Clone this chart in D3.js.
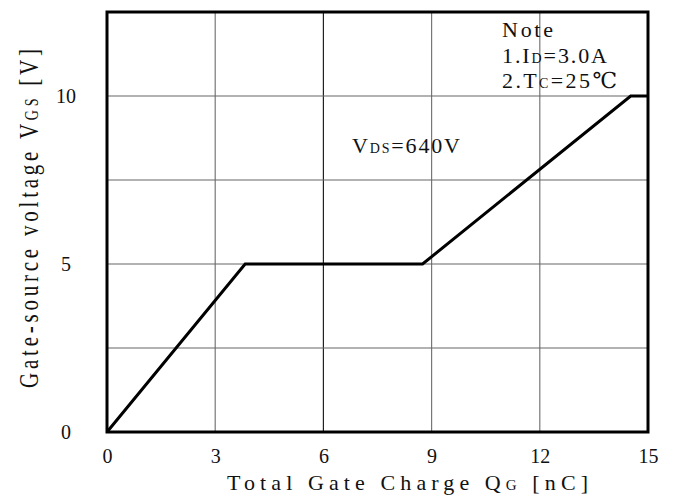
<!DOCTYPE html>
<html>
<head>
<meta charset="utf-8">
<script src="https://cdn.jsdelivr.net/npm/d3@7"></script>
<style>
  body { margin: 0; background: #fff; }
  text { font-family: "Liberation Serif", "DejaVu Serif", serif; fill: #111; }
</style>
</head>
<body>
<svg id="chart" width="680" height="497"></svg>
<script>
// gate charge curve
const qg  = [0, 3.83, 8.75, 14.52, 15];
const vgs = [0, 5, 5, 10, 10];

const xTicks = [0, 3, 6, 9, 12, 15];
const yTicks = [0, 5, 10];
const yGrid  = [2.5, 5, 7.5, 10];
// [main, subscript, rest, width]
const noteLines = [["Note", "", "", 51], ["1.I", "D", "=3.0A", 105], ["2.T", "C", "=25\u2103", 115]];

chart('#chart');

function chart(idsvg) {
    const svg = d3.select(idsvg);
    const margin = {left: 107, top: 12, right: 32, bottom: 65};
    const W = 680 - margin.left - margin.right;
    const H = 497 - margin.top - margin.bottom;

    const g = svg.append('g').attr('transform', 'translate(' + margin.left + ',' + margin.top + ')');

    const x = d3.scaleLinear().domain([0, 15]).range([0, W]);
    const y = d3.scaleLinear().domain([0, 12.5]).range([H, 0]);

    // grid
    g.append('g').selectAll('line').data(xTicks.slice(1, -1)).join('line')
        .attr('x1', d => x(d)).attr('x2', d => x(d))
        .attr('y1', 0).attr('y2', H)
        .attr('stroke', d => d == 6 ? '#222' : '#777').attr('stroke-width', 1.2);
    g.append('g').selectAll('line').data(yGrid).join('line')
        .attr('x1', 0).attr('x2', W)
        .attr('y1', d => y(d)).attr('y2', d => y(d))
        .attr('stroke', '#666').attr('stroke-width', 1.2);

    // tick labels
    let xAxis = d3.axisBottom(x).tickValues(xTicks).tickSize(0).tickPadding(17).tickFormat(d3.format('d'));
    let ax = g.append('g').attr('transform', 'translate(0,' + H + ')').call(xAxis);
    ax.select('.domain').remove();
    ax.selectAll('text').attr('font-size', 20).attr('font-family', '"Liberation Serif", serif').attr('fill', '#111');

    let yAxis = d3.axisLeft(y).tickValues(yTicks).tickSize(0).tickPadding(30).tickFormat(d3.format('d'));
    let ay = g.append('g').call(yAxis);
    ay.select('.domain').remove();
    ay.selectAll('text').attr('font-size', 20).attr('font-family', '"Liberation Serif", serif').attr('fill', '#111')
        .attr('text-anchor', 'middle').attr('x', -41);

    // curve
    const pts = qg.map((d, i) => [d, vgs[i]]);
    g.append('path').datum(pts)
        .attr('fill', 'none').attr('stroke', '#000').attr('stroke-width', 3)
        .attr('stroke-linejoin', 'miter')
        .attr('d', d3.line().x(d => x(d[0])).y(d => y(d[1])));

    // frame
    g.append('rect').attr('width', W).attr('height', H)
        .attr('fill', 'none').attr('stroke', '#000').attr('stroke-width', 3);

    // axis titles
    let xt = svg.append('text').attr('x', 227).attr('y', 490).attr('font-size', 22)
        .attr('textLength', 361).attr('lengthAdjust', 'spacing');
    xt.append('tspan').text('Total Gate Charge Q');
    xt.append('tspan').attr('font-size', 15).text('G');
    xt.append('tspan').text(' [nC]');

    let yt = svg.append('text').attr('transform', 'translate(38,388) rotate(-90) scale(1,1.35)').attr('font-size', 21)
        .attr('textLength', 339).attr('lengthAdjust', 'spacing');
    yt.append('tspan').text('Gate-source voltage V');
    yt.append('tspan').attr('font-size', 14).text('GS');
    yt.append('tspan').text(' [V]');

    // notes
    noteLines.forEach((l, i) => {
        let t = svg.append('text').attr('x', 502).attr('y', 37 + i * 25.5).attr('font-size', 22)
            .attr('textLength', l[3]).attr('lengthAdjust', 'spacing');
        t.append('tspan').text(l[0]);
        if (l[1]) {
            t.append('tspan').attr('font-size', 14).text(l[1]);
            t.append('tspan').text(l[2]);
        }
    });

    let vd = svg.append('text').attr('x', 352).attr('y', 153).attr('font-size', 22)
        .attr('textLength', 108).attr('lengthAdjust', 'spacing');
    vd.append('tspan').text('V');
    vd.append('tspan').attr('font-size', 14).text('DS');
    vd.append('tspan').text('=640V');
}
</script>
</body>
</html>
